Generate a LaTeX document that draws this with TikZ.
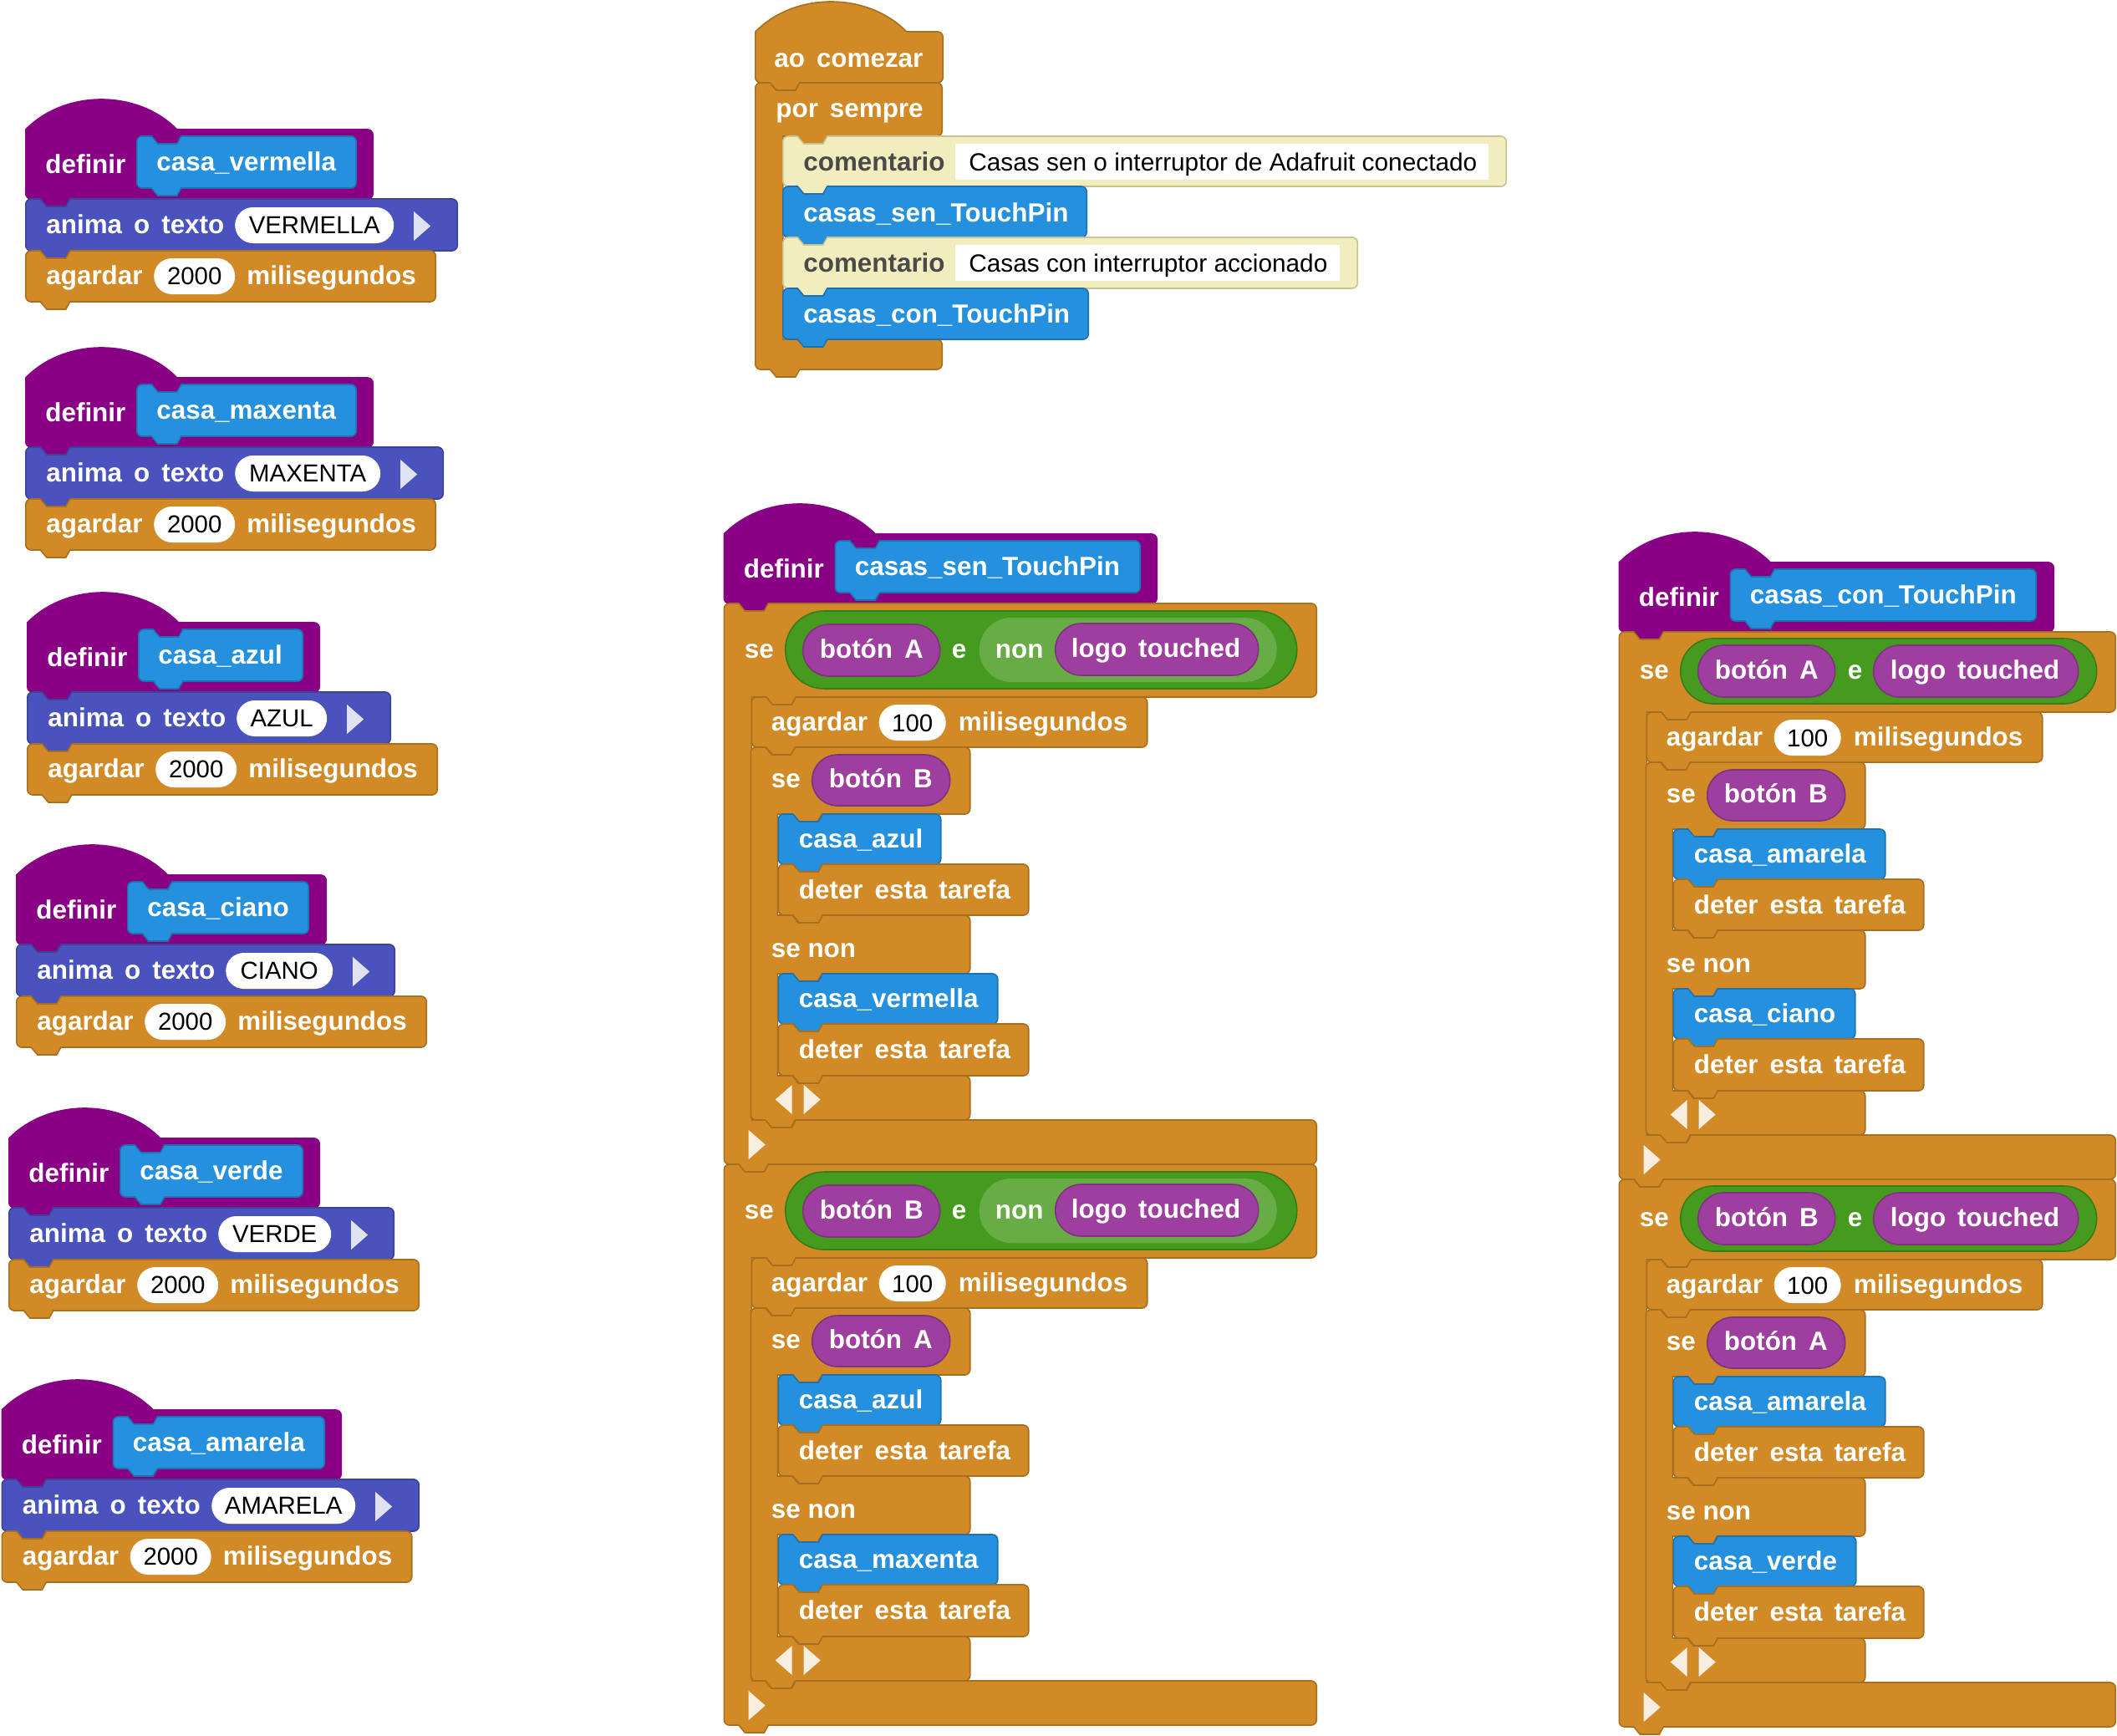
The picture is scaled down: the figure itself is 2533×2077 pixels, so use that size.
\documentclass[tikz,border=0pt]{standalone}
\usepackage{fontspec}
\setmainfont{Liberation Sans}
\definecolor{org}{HTML}{D18A26}\definecolor{orgd}{HTML}{A8701E}
\definecolor{prp}{HTML}{8A0085}
\definecolor{blu}{HTML}{2490DE}\definecolor{blud}{HTML}{1D73B2}
\definecolor{ind}{HTML}{4A52BE}\definecolor{indd}{HTML}{3B4298}
\definecolor{pin}{HTML}{9E3FA0}\definecolor{pind}{HTML}{7E3280}
\definecolor{grn}{HTML}{459B1D}\definecolor{grnd}{HTML}{377C17}
\definecolor{gnl}{HTML}{68AC45}
\definecolor{crm}{HTML}{F2EDBF}\definecolor{crmd}{HTML}{C9C593}
\definecolor{cmt}{HTML}{4A4A4A}
\definecolor{tria}{HTML}{E0E2F2}\definecolor{trio}{HTML}{F8EEDF}
\tikzset{
 bo/.style={fill=org,draw=orgd,line width=1.6pt},
 bp/.style={fill=prp,draw=prp,line width=1.6pt},
 bb/.style={fill=blu,draw=blud,line width=1.6pt},
 bi/.style={fill=ind,draw=indd,line width=1.6pt},
 bc/.style={fill=crm,draw=crmd,line width=1.6pt},
 lab/.style={anchor=base west,inner sep=0pt,font=\normalfont\bfseries\fontsize{31.4}{34}\selectfont},
 valn/.style={anchor=base,inner sep=0pt,text=black,font=\normalfont\fontsize{29.4}{32}\selectfont},
 cmtn/.style={anchor=base west,inner sep=0pt,text=black,font=\normalfont\fontsize{29.8}{32}\selectfont},
}
\newcommand\gp{\hspace{14pt}}
\newcommand\cTL[2]{.. controls ({#1},{#2+3}) and ({#1+3},{#2}) .. ({#1+6},{#2})}
\newcommand\cTR[2]{-- ({#1-7.6},{#2}) .. controls ({#1-4.6},{#2}) and ({#1-1.6},{#2+3}) .. ({#1-1.6},{#2+6})}
\newcommand\cBR[2]{-- ({#1-1.6},{#2-6}) .. controls ({#1-1.6},{#2-3}) and ({#1-4.6},{#2}) .. ({#1-7.6},{#2})}
\newcommand\cBL[2]{-- ({#1+6},{#2}) .. controls ({#1+3},{#2}) and ({#1},{#2-3}) .. ({#1},{#2-6})}
\newcommand\nch[2]{-- ({#1+17.5},{#2}) -- ({#1+25},{#2+9}) -- ({#1+48},{#2+9}) -- ({#1+53},{#2})}
\newcommand\tabb[2]{-- ({#1+53},{#2}) -- ({#1+48},{#2+9}) -- ({#1+25},{#2+9}) -- ({#1+17.5},{#2})}
% plain statement block
\newcommand\stmt[5]{\draw[#1] ({#2},{#3+6}) \cTL{#2}{#3} \nch{#2}{#3} \cTR{#4}{#3} \cBR{#4}{#5} \tabb{#2}{#5} \cBL{#2}{#5} -- cycle;}
% hat block
\newcommand\hatb[5]{\draw[#1] ({#2},{#3}) .. controls ({#2+47},{#3-48}) and ({#2+134},{#3-48}) .. ({#2+181},{#3}) \cTR{#4}{#3} \cBR{#4}{#5} \tabb{#2}{#5} \cBL{#2}{#5} -- cycle;}
% C block, one mouth:  x T R A F R2 B
\newcommand\cone[7]{\draw[bo] ({#1},{#2+6}) \cTL{#1}{#2} \nch{#1}{#2} \cTR{#3}{#2} \cBR{#3}{#4} \tabb{#1+33}{#4} -- ({#1+33},{#4}) -- ({#1+33},{#5}) \nch{#1+33}{#5} \cTR{#6}{#5} \cBR{#6}{#7} \tabb{#1}{#7} \cBL{#1}{#7} -- cycle;}
% C block, two mouths: x T R A1 M A2 F B
\newcommand\ctwo[8]{\draw[bo] ({#1},{#2+6}) \cTL{#1}{#2} \nch{#1}{#2} \cTR{#3}{#2} \cBR{#3}{#4} \tabb{#1+32}{#4} -- ({#1+32},{#4}) -- ({#1+32},{#5}) \nch{#1+32}{#5} \cTR{#3}{#5} \cBR{#3}{#6} \tabb{#1+32}{#6} -- ({#1+32},{#6}) -- ({#1+32},{#7}) \nch{#1+32}{#7} \cTR{#3}{#7} \cBR{#3}{#8} \tabb{#1}{#8} \cBL{#1}{#8} -- cycle;}
% capsule outline: style x1 x2 y1 y2
\newcommand\capsule[5]{\pgfmathsetmacro\pr{((#5)-(#4))/2}\pgfmathsetmacro\pk{0.5523*\pr}\pgfmathsetmacro\pmid{((#4)+(#5))/2}\pgfmathsetmacro\xl{#2-1.6}\pgfmathsetmacro\xr{#3-1.6}\pgfmathsetmacro\yt{#4}\pgfmathsetmacro\yb{#5}
 \path[#1] ({\xl+\pr},{\yt}) -- ({\xr-\pr},{\yt}) .. controls ({\xr-\pr+\pk},{\yt}) and ({\xr},{\pmid-\pk}) .. ({\xr},{\pmid}) .. controls ({\xr},{\pmid+\pk}) and ({\xr-\pr+\pk},{\yb}) .. ({\xr-\pr},{\yb}) -- ({\xl+\pr},{\yb}) .. controls ({\xl+\pr-\pk},{\yb}) and ({\xl},{\pmid+\pk}) .. ({\xl},{\pmid}) .. controls ({\xl},{\pmid-\pk}) and ({\xl+\pr-\pk},{\yt}) .. ({\xl+\pr},{\yt}) -- cycle;}
\newcommand\pill[6]{\capsule{fill=#5,draw=#6,line width=1.6pt}{#1}{#2}{#3}{#4}}
\newcommand\wpill[4]{\capsule{fill=white}{#1}{#2}{#3}{#4}}
\newcount\nodeno
\newcommand\lbl[4]{\global\advance\nodeno by 1 \node[lab,text=#4] (t\the\nodeno) at ({#1-1.6},{#2}) {#3};}
\newcommand\val[3]{\global\advance\nodeno by 1 \node[valn] (t\the\nodeno) at ({#1-1.6},{#2}) {#3};}
\newcommand\cmtx[3]{\global\advance\nodeno by 1 \node[cmtn] (t\the\nodeno) at ({#1-1.6},{#2}) {#3};}
\newcommand\tril[4]{\fill[#4] ({#1-1.6},{#2}) -- ({#1-1.6},{#2+35}) -- ({#1-21.6},{#2+17.5}) -- cycle;}
\newcommand\trir[4]{\fill[#4] ({#1-1.6},{#2}) -- ({#1-1.6},{#2+35}) -- ({#1-1.6+#3},{#2+17.5}) -- cycle;}
% definir header: x D name defR innerR
\newcommand\defhead[5]{\hatb{bp}{#1}{#2}{#4}{#2+83}
 \stmt{bb}{#1+133}{#2+8}{#5}{#2+70}
 \lbl{#1+25}{#2+52}{definir}{white}
 \lbl{#1+158}{#2+49}{#3}{white}}
% group: x D name defR innerR animaR pillL pillR val
\newcommand\grp[9]{\defhead{#1}{#2}{#3}{#4}{#5}
 \stmt{bi}{#1}{#2+83}{#6}{#2+145}
 \lbl{#1+26}{#2+124}{anima\gp o\gp texto}{white}
 \wpill{#7}{#8}{#2+93}{#2+136}
 \val{(#7+#8)/2}{#2+124}{#9}
 \trir{#8+24}{#2+98}{20}{tria}
 \stmt{bo}{#1}{#2+145}{#1+492}{#2+206}
 \lbl{#1+26}{#2+185}{agardar}{white}
 \wpill{#1+155}{#1+252}{#2+154}{#2+197}
 \val{#1+203.5}{#2+185}{2000}
 \lbl{#1+266}{#2+185}{milisegundos}{white}}
% se block: x T A R pin b1 b1R b2 b2R
\newcommand\seb[9]{\cone{#1}{#2}{#4}{#3}{#3+506}{#4}{#3+559}
 \stmt{bo}{#1+33}{#3}{#1+508}{#3+60}
 \lbl{#1+58}{#3+40}{agardar}{white}
 \wpill{#1+187}{#1+267}{#3+9}{#3+52}
 \val{#1+227}{#3+41}{100}
 \lbl{#1+282}{#3+40}{milisegundos}{white}
 \ctwo{#1+32}{#3+60}{#1+296}{#3+140}{#3+261}{#3+331}{#3+453}{#3+506}
 \lbl{#1+58}{#3+108}{se}{white}
 \pill{#1+107}{#1+272}{#3+69}{#3+130}{pin}{pind}
 \lbl{#1+127}{#3+108}{#5}{white}
 \stmt{bb}{#1+65}{#3+140}{#1+#7}{#3+200}
 \lbl{#1+91}{#3+180}{#6}{white}
 \stmt{bo}{#1+65}{#3+200}{#1+366}{#3+261}
 \lbl{#1+91}{#3+241}{deter\gp esta\gp tarefa}{white}
 \lbl{#1+58}{#3+311}{se non}{white}
 \stmt{bb}{#1+65}{#3+331}{#1+#9}{#3+391}
 \lbl{#1+91}{#3+371}{#8}{white}
 \stmt{bo}{#1+65}{#3+391}{#1+366}{#3+453}
 \lbl{#1+91}{#3+432}{deter\gp esta\gp tarefa}{white}
 \tril{#1+83}{#3+464}{20}{trio}
 \trir{#1+97}{#3+464}{20}{trio}
 \trir{#1+31}{#3+518}{20}{trio}}
% condition with non: x T pin
\newcommand\condnon[3]{\pill{#1+75}{#1+687}{#2+9}{#2+102}{grn}{grnd}
 \lbl{#1+26}{#2+65}{se}{white}
 \pill{#1+96}{#1+260}{#2+25}{#2+87}{pin}{pind}
 \lbl{#1+116}{#2+65}{#3}{white}
 \lbl{#1+274}{#2+65}{e}{white}
 \capsule{fill=gnl}{#1+307}{#1+663}{#2+17}{#2+94}
 \lbl{#1+326}{#2+65}{non}{white}
 \pill{#1+398}{#1+641}{#2+24}{#2+86}{pin}{pind}
 \lbl{#1+417}{#2+64}{logo\gp touched}{white}}
\newcommand\condpl[3]{\pill{#1+75}{#1+573}{#2+8}{#2+86}{grn}{grnd}
 \lbl{#1+26}{#2+56}{se}{white}
 \pill{#1+96}{#1+260}{#2+16}{#2+78}{pin}{pind}
 \lbl{#1+116}{#2+56}{#3}{white}
 \lbl{#1+275}{#2+56}{e}{white}
 \pill{#1+306}{#1+551}{#2+16}{#2+78}{pin}{pind}
 \lbl{#1+326}{#2+56}{logo\gp touched}{white}}
\begin{document}
\begin{tikzpicture}[x=1pt,y=-1pt]
\useasboundingbox (0,0) rectangle (2533,2077);
\begin{scope}[xshift=0.8pt]
% left column
\grp{30}{155}{casa\_vermella}{447}{427}{548}{282}{472}{VERMELLA}
\grp{30}{452}{casa\_maxenta}{447}{427}{531}{282}{456}{MAXENTA}
\grp{32}{745}{casa\_azul}{383}{363}{468}{284}{392}{AZUL}
\grp{19}{1047}{casa\_ciano}{391}{370}{473}{271}{399}{CIANO}
\grp{10}{1362}{casa\_verde}{383}{363}{472}{262}{397}{VERDE}
\grp{1.5}{1687}{casa\_amarela}{409}{389}{502}{254}{426}{AMARELA}
% top block
\hatb{bo}{903}{38}{1129}{99}
\lbl{927}{80}{ao\gp comezar}{white}
\draw[bo] (903,105) \cTL{903}{99} \nch{903}{99} \cTR{1128}{99} \cBR{1128}{163} \tabb{936}{163} -- (936,163) -- (936,406) \cTR{1128}{406} \cBR{1128}{442} \tabb{903}{442} \cBL{903}{442} -- cycle;
\lbl{929}{140}{por\gp sempre}{white}
\stmt{bc}{936}{163}{1803}{223}
\fill[white] (1142.4,172) rectangle (1780.4,215);
\lbl{962}{204}{comentario}{cmt}
\cmtx{1160}{204}{Casas sen o interruptor de Adafruit conectado}
\stmt{bb}{936}{223}{1301}{284}
\lbl{962}{265}{casas\_sen\_TouchPin}{white}
\stmt{bc}{936}{284}{1625}{345}
\fill[white] (1142.4,293) rectangle (1602.4,336);
\lbl{962}{325}{comentario}{cmt}
\cmtx{1160}{325}{Casas con interruptor accionado}
\stmt{bb}{936}{345}{1303}{406}
\lbl{962}{386}{casas\_con\_TouchPin}{white}
% middle column
\defhead{865.5}{639}{casas\_sen\_TouchPin}{1385}{1365}
\seb{865.5}{722}{834}{1576}{botón\gp B}{casa\_azul}{261}{casa\_vermella}{329}
\condnon{865.5}{722}{botón\gp A}
\seb{865.5}{1393}{1505}{1576}{botón\gp A}{casa\_azul}{261}{casa\_maxenta}{329}
\condnon{865.5}{1393}{botón\gp B}
% right column
\defhead{1936.5}{673}{casas\_con\_TouchPin}{2458}{2437}
\seb{1936.5}{756}{852}{2532}{botón\gp B}{casa\_amarela}{320}{casa\_ciano}{284}
\condpl{1936.5}{756}{botón\gp A}
\seb{1936.5}{1411}{1507}{2532}{botón\gp A}{casa\_amarela}{320}{casa\_verde}{285}
\condpl{1936.5}{1411}{botón\gp B}
\end{scope}
\end{tikzpicture}
\end{document}
